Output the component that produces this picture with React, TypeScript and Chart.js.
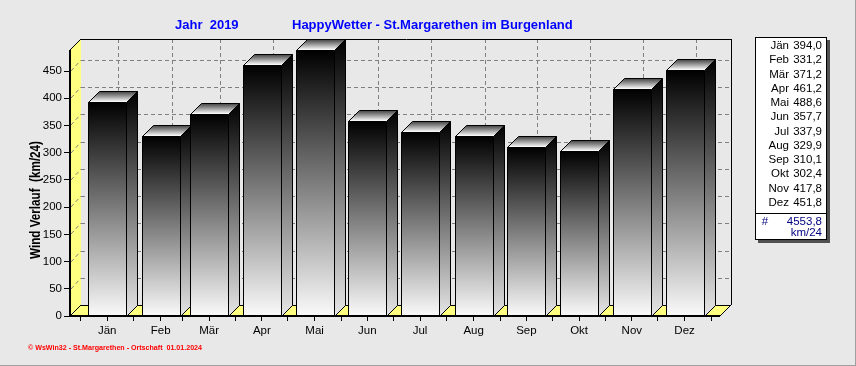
import React, { useEffect, useRef } from 'react';
import { Chart, registerables } from 'chart.js';

Chart.register(...registerables);

// ---------- data ----------
const months = ['Jän', 'Feb', 'Mär', 'Apr', 'Mai', 'Jun', 'Jul', 'Aug', 'Sep', 'Okt', 'Nov', 'Dez'];
const windValues = [394.0, 331.2, 371.2, 461.2, 488.6, 357.7, 337.9, 329.9, 310.1, 302.4, 417.8, 451.8];
// bar centres on the (day of year) time axis
const monthMidDay = [15.5, 46.5, 74.5, 105, 135.5, 166, 196.5, 227.5, 258, 288.5, 319, 349.5];
const monthStartDay = [0, 31, 59, 90, 120, 151, 181, 212, 243, 273, 304, 334, 365];
const yTickValues = [0, 50, 100, 150, 200, 250, 300, 350, 400, 450];

const titleYear = 'Jahr  2019';
const titleStation = 'HappyWetter - St.Margarethen im Burgenland';
const yAxisTitle = 'Wind Verlauf  (km/24)';
const footerText = '© WsWin32 - St.Margarethen - Ortschaft  01.01.2024';
const sumSymbol = '#';
const unitText = 'km/24';

// ---------- style ----------
const FONT = '"Liberation Sans", Arial, sans-serif';
const BG = '#e8e8e8';
const YELLOW = '#ffff80';
const DX = 11;
const DY = 11;

const fmt = (v: number) => v.toFixed(1).replace('.', ',');

function poly(ctx: CanvasRenderingContext2D, pts: number[][]) {
  ctx.beginPath();
  ctx.moveTo(pts[0][0], pts[0][1]);
  for (let i = 1; i < pts.length; i++) ctx.lineTo(pts[i][0], pts[i][1]);
  ctx.closePath();
}
function seg(ctx: CanvasRenderingContext2D, x1: number, y1: number, x2: number, y2: number) {
  ctx.beginPath();
  ctx.moveTo(x1, y1);
  ctx.lineTo(x2, y2);
  ctx.stroke();
}

const wswinPlugin = {
  id: 'wswin3d',
  beforeDraw(chart: any) {
    const { ctx, width, height } = chart;
    ctx.save();
    ctx.fillStyle = BG;
    ctx.fillRect(0, 0, width, height);
    ctx.restore();
  },
  beforeDatasetsDraw(chart: any) {
    const { ctx, chartArea } = chart;
    const { left: L, right: R, top: T, bottom: B } = chartArea;
    const xs = chart.scales.x;
    const ys = chart.scales.y;
    ctx.save();
    // left wall
    ctx.fillStyle = YELLOW;
    poly(ctx, [[L, T], [L + DX, T - DY], [L + DX, B - DY], [L, B]]);
    ctx.fill();
    // floor
    poly(ctx, [[L, B], [L + DX, B - DY], [R + DX, B - DY], [R, B]]);
    ctx.fill();

    // grid
    ctx.strokeStyle = '#808080';
    ctx.lineWidth = 1;
    ctx.setLineDash([4, 3]);
    yTickValues.forEach((v) => {
      if (v === 0) return;
      const py = Math.round(ys.getPixelForValue(v));
      seg(ctx, L + DX, py - DY + 0.5, R + DX, py - DY + 0.5);
      seg(ctx, L + 1, py, L + DX, py - DY);
    });
    monthMidDay.forEach((d) => {
      const px = Math.round(xs.getPixelForValue(d)) + DX + 0.5;
      seg(ctx, px, T - DY, px, B - DY);
    });
    ctx.setLineDash([]);

    // wall edges
    ctx.strokeStyle = '#000';
    seg(ctx, L + DX, T - DY + 0.5, R + DX + 1, T - DY + 0.5);
    seg(ctx, R + DX + 0.5, T - DY, R + DX + 0.5, B - DY);
    seg(ctx, L + DX, B - DY + 0.5, R + DX, B - DY + 0.5);
    seg(ctx, L, T, L + DX, T - DY);
    seg(ctx, L, B, L + DX, B - DY);
    seg(ctx, R, B, R + DX, B - DY);
    ctx.restore();
  },
  afterDatasetsDraw(chart: any) {
    const { ctx, chartArea } = chart;
    const { left: L, right: R, top: T, bottom: B } = chartArea;
    const meta = chart.getDatasetMeta(0);
    ctx.save();
    ctx.lineWidth = 1;
    ctx.strokeStyle = '#000';
    meta.data.forEach((el: any) => {
      const p = el.getProps(['x', 'y', 'base', 'width'], true);
      const l = Math.round(p.x - p.width / 2);
      const r = Math.round(p.x + p.width / 2);
      const t = Math.round(p.y);
      const b = Math.round(p.base);
      // front face
      const gf = ctx.createLinearGradient(0, t, 0, b);
      gf.addColorStop(0, '#000000');
      gf.addColorStop(1, '#fafafa');
      ctx.fillStyle = gf;
      ctx.fillRect(l, t, r - l, b - t);
      ctx.strokeRect(l + 0.5, t + 0.5, r - l, b - t);
      // side face
      const gs = ctx.createLinearGradient(0, t - DY, 0, b);
      gs.addColorStop(0, '#000000');
      gs.addColorStop(1, '#e6e6e6');
      ctx.fillStyle = gs;
      poly(ctx, [[r + 0.5, t + 0.5], [r + DX + 0.5, t - DY + 0.5], [r + DX + 0.5, b - DY + 0.5], [r + 0.5, b + 0.5]]);
      ctx.fill();
      ctx.stroke();
      // top face
      const gt = ctx.createLinearGradient(0, t - DY, 0, t);
      gt.addColorStop(0, '#3a3a3a');
      gt.addColorStop(1, '#ffffff');
      ctx.fillStyle = gt;
      poly(ctx, [[l + 0.5, t + 0.5], [l + DX + 0.5, t - DY + 0.5], [r + DX + 0.5, t - DY + 0.5], [r + 0.5, t + 0.5]]);
      ctx.fill();
      ctx.stroke();
    });
    // front axes
    ctx.lineWidth = 2;
    seg(ctx, L, T, L, B + 1);
    seg(ctx, L - 1, B, R, B);
    ctx.restore();
  },
  afterDraw(chart: any) {
    const { ctx, width, height } = chart;
    ctx.save();
    // titles
    ctx.fillStyle = '#0000ff';
    ctx.font = `bold 13px ${FONT}`;
    ctx.textAlign = 'left';
    ctx.textBaseline = 'alphabetic';
    ctx.fillText(titleYear, 175, 29);
    ctx.fillText(titleStation, 292, 29);

    // y axis title
    ctx.save();
    ctx.translate(36, 200);
    ctx.rotate(-Math.PI / 2);
    ctx.fillStyle = '#000';
    ctx.font = `bold 15px ${FONT}`;
    ctx.textAlign = 'center';
    ctx.textBaseline = 'middle';
    ctx.fillText(yAxisTitle, 0, 0, 118);
    ctx.restore();

    // legend box
    const bx = 755, by = 37, bw = 71, bh = 202;
    ctx.fillStyle = '#505050';
    ctx.fillRect(bx + 3, by + 3, bw + 1, bh + 1);
    ctx.fillStyle = '#ffffff';
    ctx.fillRect(bx, by, bw, bh);
    ctx.strokeStyle = '#000';
    ctx.lineWidth = 1;
    ctx.strokeRect(bx + 0.5, by + 0.5, bw, bh);
    seg(ctx, bx, 213.5, bx + bw, 213.5);
    ctx.font = `11.5px ${FONT}`;
    ctx.textAlign = 'right';
    ctx.fillStyle = '#000';
    months.forEach((m, i) => {
      const yy = 49 + i * 14.27;
      ctx.fillText(m, 789, yy);
      ctx.fillText(fmt(windValues[i]), 822, yy);
    });
    const total = windValues.reduce((a, b) => a + b, 0);
    ctx.fillStyle = '#000080';
    ctx.textAlign = 'center';
    ctx.fillText(sumSymbol, 765, 224.5);
    ctx.textAlign = 'right';
    ctx.fillText(fmt(total), 822, 224.5);
    ctx.fillText(unitText, 822, 236);

    // footer
    ctx.fillStyle = '#ff0000';
    ctx.font = `bold 7.5px ${FONT}`;
    ctx.textAlign = 'left';
    ctx.fillText(footerText, 28, 350, 174);

    // outer frame
    ctx.strokeStyle = '#a0a0a0';
    seg(ctx, width - 0.5, 0, width - 0.5, height);
    seg(ctx, 0, height - 0.5, width, height - 0.5);
    ctx.restore();
  },
};

export default function App() {
  const ref = useRef<HTMLCanvasElement>(null);
  useEffect(() => {
    if (!ref.current) return;
    const xTickDays: number[] = [];
    monthStartDay.forEach((d, i) => {
      xTickDays.push(d);
      if (i < monthMidDay.length) xTickDays.push(monthMidDay[i]);
    });
    const chart = new Chart(ref.current, {
      type: 'bar',
      data: {
        datasets: [
          {
            label: 'Wind Verlauf',
            data: monthMidDay.map((d, i) => ({ x: d, y: windValues[i] })) as any,
            backgroundColor: 'rgba(0,0,0,0)',
            borderWidth: 0,
            barThickness: 38,
          },
        ],
      },
      options: {
        responsive: false,
        animation: false,
        devicePixelRatio: 1,
        layout: { padding: { left: 0, top: 50, right: 136, bottom: 0 } },
        plugins: { legend: { display: false }, tooltip: { enabled: false }, title: { display: false } },
        scales: {
          x: {
            type: 'linear',
            offset: false,
            min: -6,
            max: 370,
            afterBuildTicks: (axis: any) => {
              axis.ticks = xTickDays.map((v) => ({ value: v }));
            },
            afterFit: (axis: any) => {
              axis.height = 50;
            },
            ticks: {
              autoSkip: false,
              maxRotation: 0,
              minRotation: 0,
              padding: 3,
              color: '#000',
              font: { family: FONT, size: 11.5 },
              callback: (v: any) => {
                const i = monthMidDay.indexOf(Number(v));
                return i >= 0 ? months[i] : '';
              },
            },
            grid: { display: true, offset: false, drawOnChartArea: false, drawTicks: true, tickLength: 5, color: '#000' },
            border: { display: false },
          },
          y: {
            type: 'linear',
            min: 0,
            max: Math.max(...windValues),
            afterBuildTicks: (axis: any) => {
              axis.ticks = yTickValues.map((v) => ({ value: v }));
            },
            afterFit: (axis: any) => {
              axis.width = 70;
            },
            ticks: {
              padding: 2,
              color: '#000',
              font: { family: FONT, size: 11.5 },
              callback: (v: any) => String(v),
            },
            grid: { display: true, drawOnChartArea: false, drawTicks: true, tickLength: 6, color: '#000' },
            border: { display: false },
          },
        },
      },
      plugins: [wswinPlugin],
    } as any);
    return () => chart.destroy();
  }, []);
  return (
    <div style={{ position: 'fixed', left: 0, top: 0, width: 856, height: 366, background: BG }}>
      <canvas ref={ref} width={856} height={366} style={{ display: 'block', width: 856, height: 366 }} />
    </div>
  );
}
